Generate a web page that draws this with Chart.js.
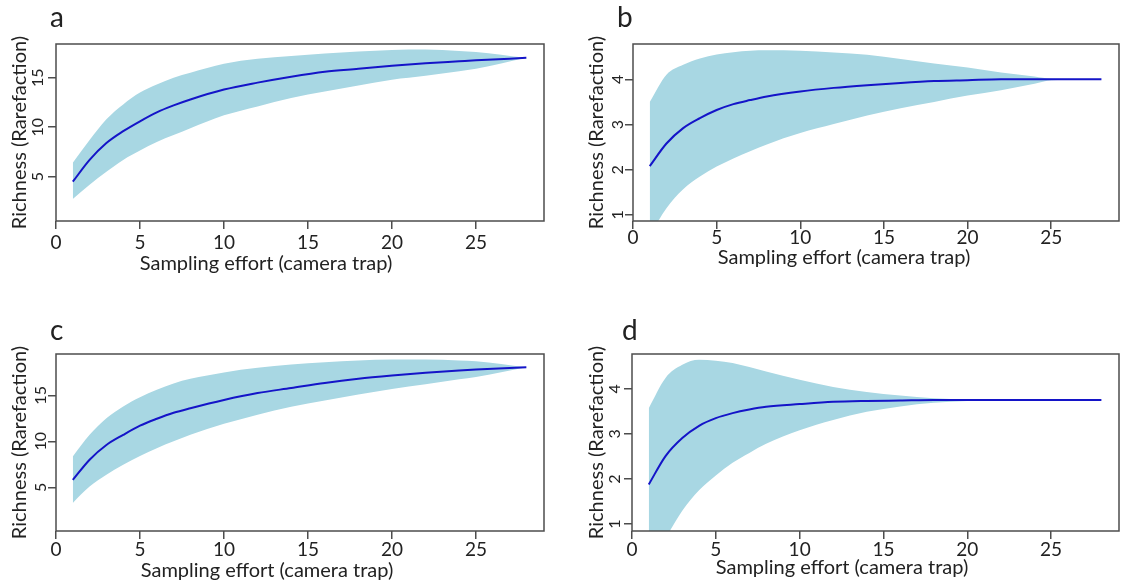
<!DOCTYPE html>
<html>
<head>
<meta charset="utf-8">
<script src="https://cdn.jsdelivr.net/npm/chart.js@4.4.1/dist/chart.umd.min.js"></script>
<style>
  html, body { margin: 0; padding: 0; background: #fff; }
  .panel { position: absolute; }
</style>
</head>
<body>
<div class="panel" style="left:0;top:0;width:560px;height:300px"><canvas id="pa"></canvas></div>
<div class="panel" style="left:560px;top:0;width:561px;height:300px"><canvas id="pb"></canvas></div>
<div class="panel" style="left:0;top:300px;width:560px;height:287px"><canvas id="pc"></canvas></div>
<div class="panel" style="left:560px;top:300px;width:561px;height:287px"><canvas id="pd"></canvas></div>
<script>
// sampling effort (number of camera traps)
const effort = [1, 2, 3, 4, 5, 6, 7, 8, 10, 12, 14, 16, 18, 20, 22, 24, 25, 28];

const meanA  = [4.5, 6.7, 8.4, 9.6, 10.6, 11.5, 12.2, 12.8, 13.8, 14.5, 15.1, 15.6, 15.9, 16.2, 16.45, 16.65, 16.75, 17.0];
const upperA = [6.4, 8.7, 10.8, 12.3, 13.5, 14.3, 15.0, 15.5, 16.4, 16.9, 17.2, 17.45, 17.65, 17.8, 17.85, 17.7, 17.6, 17.0];
const lowerA = [2.75, 4.2, 5.5, 6.7, 7.65, 8.5, 9.2, 9.9, 11.2, 12.1, 12.95, 13.6, 14.2, 14.8, 15.2, 15.65, 15.9, 17.0];

const meanB  = [2.08, 2.58, 2.92, 3.14, 3.32, 3.45, 3.54, 3.62, 3.73, 3.81, 3.87, 3.92, 3.96, 3.98, 4.0, 4.0, 4.0, 4.0];
const upperB = [3.5, 4.1, 4.32, 4.46, 4.55, 4.6, 4.63, 4.64, 4.63, 4.59, 4.54, 4.45, 4.35, 4.26, 4.15, 4.06, 4.01, 4.0];
const lowerB = [0.55, 1.15, 1.57, 1.85, 2.07, 2.25, 2.41, 2.56, 2.81, 3.01, 3.2, 3.36, 3.5, 3.64, 3.76, 3.9, 3.98, 4.0];

const meanC  = [5.8, 8.0, 9.6, 10.7, 11.7, 12.45, 13.1, 13.6, 14.5, 15.25, 15.8, 16.35, 16.8, 17.15, 17.45, 17.7, 17.8, 18.05];
const upperC = [8.35, 10.7, 12.5, 13.8, 14.8, 15.6, 16.3, 16.8, 17.5, 18.0, 18.35, 18.6, 18.8, 18.9, 18.9, 18.8, 18.7, 18.05];
const lowerC = [3.3, 5.07, 6.35, 7.45, 8.4, 9.25, 10.0, 10.7, 11.9, 12.9, 13.75, 14.45, 15.1, 15.7, 16.2, 16.75, 17.0, 18.05];

const meanD  = [1.88, 2.51, 2.91, 3.18, 3.35, 3.46, 3.54, 3.6, 3.66, 3.71, 3.73, 3.74, 3.75, 3.75, 3.75, 3.75, 3.75, 3.75];
const upperD = [3.57, 4.24, 4.53, 4.64, 4.62, 4.57, 4.48, 4.38, 4.2, 4.04, 3.93, 3.85, 3.79, 3.76, 3.75, 3.75, 3.75, 3.75];
const lowerD = [0.2, 0.7, 1.3, 1.75, 2.08, 2.36, 2.58, 2.78, 3.08, 3.31, 3.49, 3.61, 3.69, 3.73, 3.75, 3.75, 3.75, 3.75];

const xTicks = [0, 5, 10, 15, 20, 25];
const yTicksBig = [5, 10, 15];
const yTicksSmall = [1, 2, 3, 4];

const xTitle = 'Sampling effort (camera trap)';
const yTitle = 'Richness (Rarefaction)';

const bandColor = '#a8d7e3';
const lineColor = '#1414c8';
const axisColor = '#4d4d4d';
const textColor = '#222';
const FONT = 'Lato, "Open Sans", sans-serif';

// draws box, tick labels, axis titles and panel letter
const panelText = {
    id: 'panelText',
    afterDraw(chart, args, o) {
        const { ctx, chartArea: ca, scales } = chart;
        ctx.save();
        ctx.strokeStyle = axisColor;
        ctx.lineWidth = 1.5;
        ctx.strokeRect(ca.left, ca.top, ca.right - ca.left, ca.bottom - ca.top);

        ctx.fillStyle = textColor;
        ctx.textAlign = 'center';
        ctx.textBaseline = 'middle';

        ctx.font = '16px ' + FONT;
        scales.y.ticks.forEach(t => {
            ctx.save();
            ctx.translate(ca.left - o.yTickGap, scales.y.getPixelForValue(t.value));
            ctx.rotate(-Math.PI / 2);
            ctx.fillText(String(t.value), 0, 0);
            ctx.restore();
        });

        ctx.font = '19px ' + FONT;
        scales.x.ticks.forEach(t => {
            ctx.fillText(String(t.value), scales.x.getPixelForValue(t.value), ca.bottom + o.xTickGap);
        });

        ctx.font = '20px ' + FONT;
        ctx.fillText(xTitle, o.xTitleX, o.xTitleY);

        ctx.save();
        ctx.translate(o.yTitleX, (ca.top + ca.bottom) / 2);
        ctx.rotate(-Math.PI / 2);
        ctx.fillText(yTitle, 0, 0);
        ctx.restore();

        ctx.font = '28px ' + FONT;
        ctx.textAlign = 'left';
        ctx.textBaseline = 'alphabetic';
        ctx.fillText(o.letter, o.letterX, o.letterY);
        ctx.restore();
    }
};

function makePanel(id, mean, upper, lower, yMin, yMax, yTicks, box, txt) {
    const canvas = document.getElementById(id);
    const W = canvas.parentNode.clientWidth;
    const H = canvas.parentNode.clientHeight;
    const pts = arr => effort.map((x, i) => ({ x: x, y: arr[i] }));

    return new Chart(canvas, {
        type: 'line',
        data: {
            datasets: [
                {
                    data: pts(mean),
                    borderColor: lineColor,
                    borderWidth: 2,
                    pointRadius: 0,
                    fill: false,
                    cubicInterpolationMode: 'monotone',
                    order: 0
                },
                {
                    data: pts(upper),
                    borderWidth: 0,
                    borderColor: 'rgba(0,0,0,0)',
                    backgroundColor: bandColor,
                    pointRadius: 0,
                    fill: { target: 2 },
                    cubicInterpolationMode: 'monotone',
                    order: 1
                },
                {
                    data: pts(lower),
                    borderWidth: 0,
                    borderColor: 'rgba(0,0,0,0)',
                    pointRadius: 0,
                    fill: false,
                    cubicInterpolationMode: 'monotone',
                    order: 2
                }
            ]
        },
        options: {
            responsive: true,
            maintainAspectRatio: false,
            animation: false,
            events: [],
            layout: { padding: { left: 0, top: box.top, right: W - box.right, bottom: 0 } },
            plugins: {
                legend: { display: false },
                tooltip: { enabled: false },
                panelText: txt
            },
            scales: {
                x: {
                    type: 'linear',
                    min: 0,
                    max: 29.05,
                    afterBuildTicks: s => { s.ticks = xTicks.map(v => ({ value: v })); },
                    afterFit: s => { s.height = H - box.bottom; },
                    ticks: { display: false },
                    border: { display: false },
                    grid: { drawOnChartArea: false, drawTicks: true, tickLength: 8, color: axisColor, lineWidth: 1.5 }
                },
                y: {
                    type: 'linear',
                    min: yMin,
                    max: yMax,
                    afterBuildTicks: s => { s.ticks = yTicks.map(v => ({ value: v })); },
                    afterFit: s => { s.width = box.left; },
                    ticks: { display: false },
                    border: { display: false },
                    grid: { drawOnChartArea: false, drawTicks: true, tickLength: 8, color: axisColor, lineWidth: 1.5 }
                }
            }
        },
        plugins: [panelText]
    });
}

makePanel('pa', meanA, upperA, lowerA, 0.53, 18.4, yTicksBig,
    { left: 56, top: 44, right: 544, bottom: 221 },
    { letter: 'a', letterX: 50, letterY: 27, yTickGap: 18, xTickGap: 22, xTitleX: 266, xTitleY: 264, yTitleX: 20 });

makePanel('pb', meanB, upperB, lowerB, 0.867, 4.78, yTicksSmall,
    { left: 73, top: 44, right: 559, bottom: 221 },
    { letter: 'b', letterX: 57, letterY: 27, yTickGap: 15, xTickGap: 17, xTitleX: 284, xTitleY: 258, yTitleX: 37 });

makePanel('pc', meanC, upperC, lowerC, 0.24, 19.5, yTicksBig,
    { left: 56, top: 54, right: 544, bottom: 231 },
    { letter: 'c', letterX: 50, letterY: 40, yTickGap: 15, xTickGap: 19, xTitleX: 267, xTitleY: 271, yTitleX: 20 });

makePanel('pd', meanD, upperD, lowerD, 0.85, 4.77, yTicksSmall,
    { left: 72, top: 54, right: 559, bottom: 231 },
    { letter: 'd', letterX: 62, letterY: 40, yTickGap: 17, xTickGap: 19, xTitleX: 282, xTitleY: 268, yTitleX: 37 });
</script>
</body>
</html>
